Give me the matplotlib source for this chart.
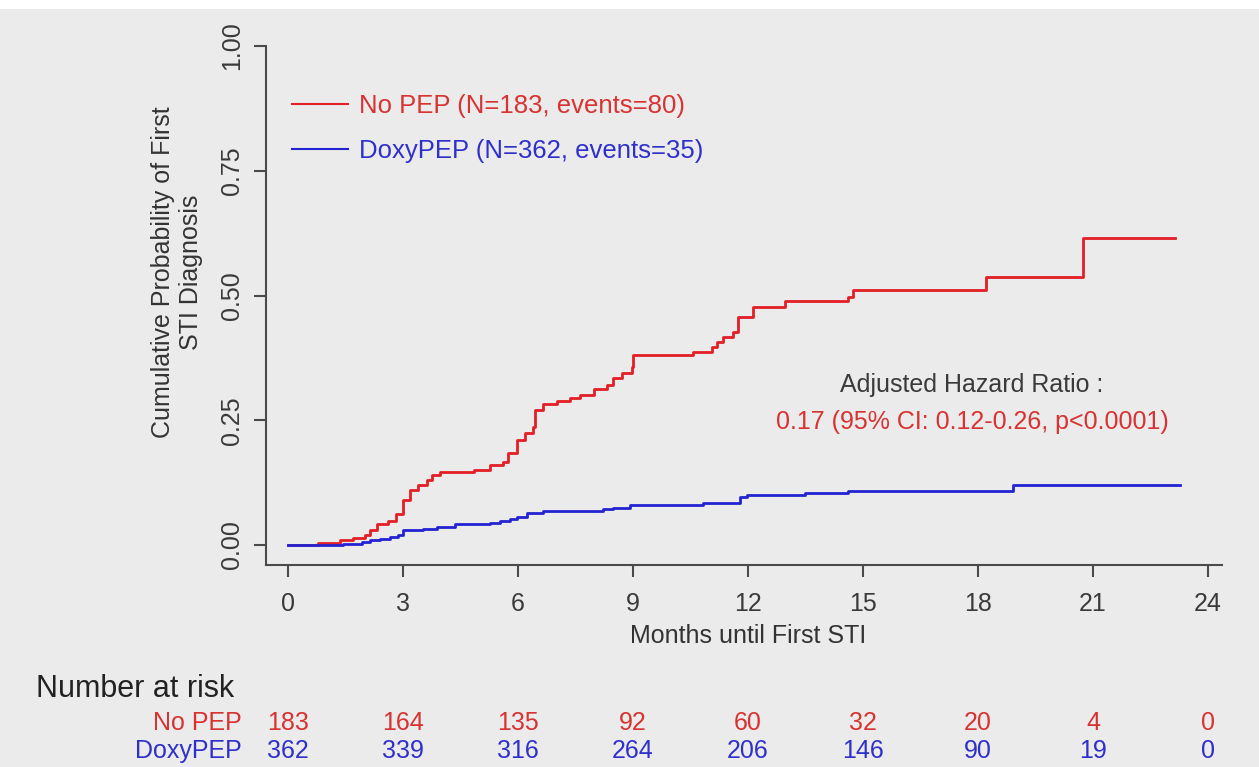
import numpy as np
import matplotlib.pyplot as plt
from matplotlib.patches import Rectangle
from matplotlib.lines import Line2D
from matplotlib.transforms import blended_transform_factory

plt.rcParams['font.family'] = ['Liberation Sans', 'DejaVu Sans']

# Kaplan-Meier style cumulative incidence (months, probability)
nopep_t = [0, 0.79, 1.36, 1.70, 2.01, 2.14, 2.31, 2.62, 2.83, 3.01, 3.18, 3.40, 3.62, 3.75,
           3.97, 4.84, 5.27, 5.62, 5.75, 5.97, 6.18, 6.40, 6.44, 6.66, 7.01, 7.36, 7.62, 7.97,
           8.31, 8.49, 8.70, 8.97, 9.01, 10.57, 11.05, 11.18, 11.36, 11.62, 11.75, 12.14,
           12.97, 14.62, 14.75, 18.21, 20.75, 23.14]
nopep_p = [0, 0.005, 0.011, 0.015, 0.020, 0.030, 0.043, 0.049, 0.063, 0.090, 0.110, 0.120,
           0.130, 0.140, 0.146, 0.150, 0.160, 0.167, 0.184, 0.210, 0.224, 0.237, 0.270, 0.283,
           0.289, 0.294, 0.301, 0.312, 0.320, 0.334, 0.345, 0.357, 0.381, 0.387, 0.397, 0.407,
           0.417, 0.427, 0.457, 0.476, 0.488, 0.496, 0.512, 0.538, 0.615, 0.615]

doxy_t = [0, 1.44, 1.92, 2.14, 2.40, 2.66, 2.88, 3.01, 3.53, 3.88, 4.36, 5.27, 5.53, 5.79,
          5.97, 6.23, 6.66, 8.23, 8.49, 8.92, 10.83, 11.79, 11.97, 13.49, 14.62, 18.92, 23.27]
doxy_p = [0, 0.002, 0.007, 0.010, 0.013, 0.017, 0.021, 0.030, 0.032, 0.037, 0.043, 0.045,
          0.049, 0.052, 0.057, 0.065, 0.069, 0.072, 0.075, 0.080, 0.084, 0.097, 0.100, 0.104,
          0.109, 0.120, 0.120]

risk_times = [0, 3, 6, 9, 12, 15, 18, 21, 24]
risk_nopep = [183, 164, 135, 92, 60, 32, 20, 4, 0]
risk_doxy = [362, 339, 316, 264, 206, 146, 90, 19, 0]

legend_labels = ['No PEP (N=183, events=80)', 'DoxyPEP (N=362, events=35)']
group_names = ['No PEP', 'DoxyPEP']

RED = '#e41e26'
BLUE = '#2323d2'
RED_TXT = '#d83232'
BLUE_TXT = '#2f2fcc'
AXC = '#4a4a4a'
BG = '#ebebeb'

W, H = 1259, 767
fig = plt.figure(figsize=(W / 100, H / 100), dpi=100, facecolor=BG)
fig.patches.append(Rectangle((0, 1 - 9 / H), 1, 9 / H, transform=fig.transFigure,
                             facecolor='white', edgecolor='none', zorder=-1))

# axes box: left spine x=266, bottom spine y=565, right end ~1222, top = 1.00 at y=46
ax = fig.add_axes([266 / W, 1 - 565 / H, (1222 - 266) / W, (565 - 46) / H])
ax.set_facecolor(BG)

ax.step(nopep_t, nopep_p, where='post', color=RED, lw=2.0)
ax.step(doxy_t, doxy_p, where='post', color=BLUE, lw=2.0)

x0, x24 = 288, 1208
ppm = (x24 - x0) / 24
ax.set_xlim((266 - x0) / ppm, (1222 - x0) / ppm)
ax.set_ylim((545 - 565) / 499, 1.0)

ax.set_xticks(risk_times)
ax.set_yticks([0, 0.25, 0.5, 0.75, 1.0])
ax.set_yticklabels(['0.00', '0.25', '0.50', '0.75', '1.00'], rotation=90, va='center')
for s in ['top', 'right']:
    ax.spines[s].set_visible(False)
for s in ['left', 'bottom']:
    ax.spines[s].set_color(AXC)
    ax.spines[s].set_linewidth(1.5)
ax.tick_params(axis='both', length=8.5, width=1.5, color=AXC, labelcolor='#3a3a3a',
               labelsize=18)
ax.tick_params(axis='x', pad=11)
ax.tick_params(axis='y', pad=7)

fig.text(748 / W, 1 - 636 / H, 'Months until First STI', fontsize=18, color='#333333',
         ha='center', va='center')
fig.text(177 / W, 1 - 272 / H, 'Cumulative Probability of First\nSTI Diagnosis', fontsize=18,
         color='#333333', ha='center', va='center', rotation=90, linespacing=1.2)

handles = [Line2D([], [], color=RED, lw=1.5), Line2D([], [], color=BLUE, lw=1.5)]
leg = ax.legend(handles, legend_labels, loc='upper left', frameon=False, fontsize=18.5,
                bbox_to_anchor=((292 - 266) / (1222 - 266) - 0.011, 1 - (84 - 46) / (565 - 46)),
                handlelength=2.2, handletextpad=0.4, labelspacing=0.8, borderaxespad=0)
for txt, c in zip(leg.get_texts(), [RED_TXT, BLUE_TXT]):
    txt.set_color(c)

fig.text(972 / W, 1 - 385 / H, 'Adjusted Hazard Ratio :', fontsize=18, color='#3a3a3a',
         ha='center', va='center')
fig.text(972 / W, 1 - 422 / H, '0.17 (95% CI: 0.12-0.26, p<0.0001)', fontsize=18,
         color=RED_TXT, ha='center', va='center')

# number at risk table
fig.text(36 / W, 1 - 689 / H, 'Number at risk', fontsize=22, color='#222222',
         ha='left', va='center')
tr = blended_transform_factory(ax.transData, fig.transFigure)
rows = [(risk_nopep, RED_TXT, 723), (risk_doxy, BLUE_TXT, 751)]
for (vals, c, yy), name in zip(rows, group_names):
    fig.text(242 / W, 1 - yy / H, name, fontsize=18, color=c, ha='right', va='center')
    for t, v in zip(risk_times, vals):
        ax.text(t, 1 - yy / H, str(v), transform=tr, fontsize=18, color=c,
                ha='center', va='center', clip_on=False)

fig.savefig('out.png', dpi=100, facecolor=BG)
